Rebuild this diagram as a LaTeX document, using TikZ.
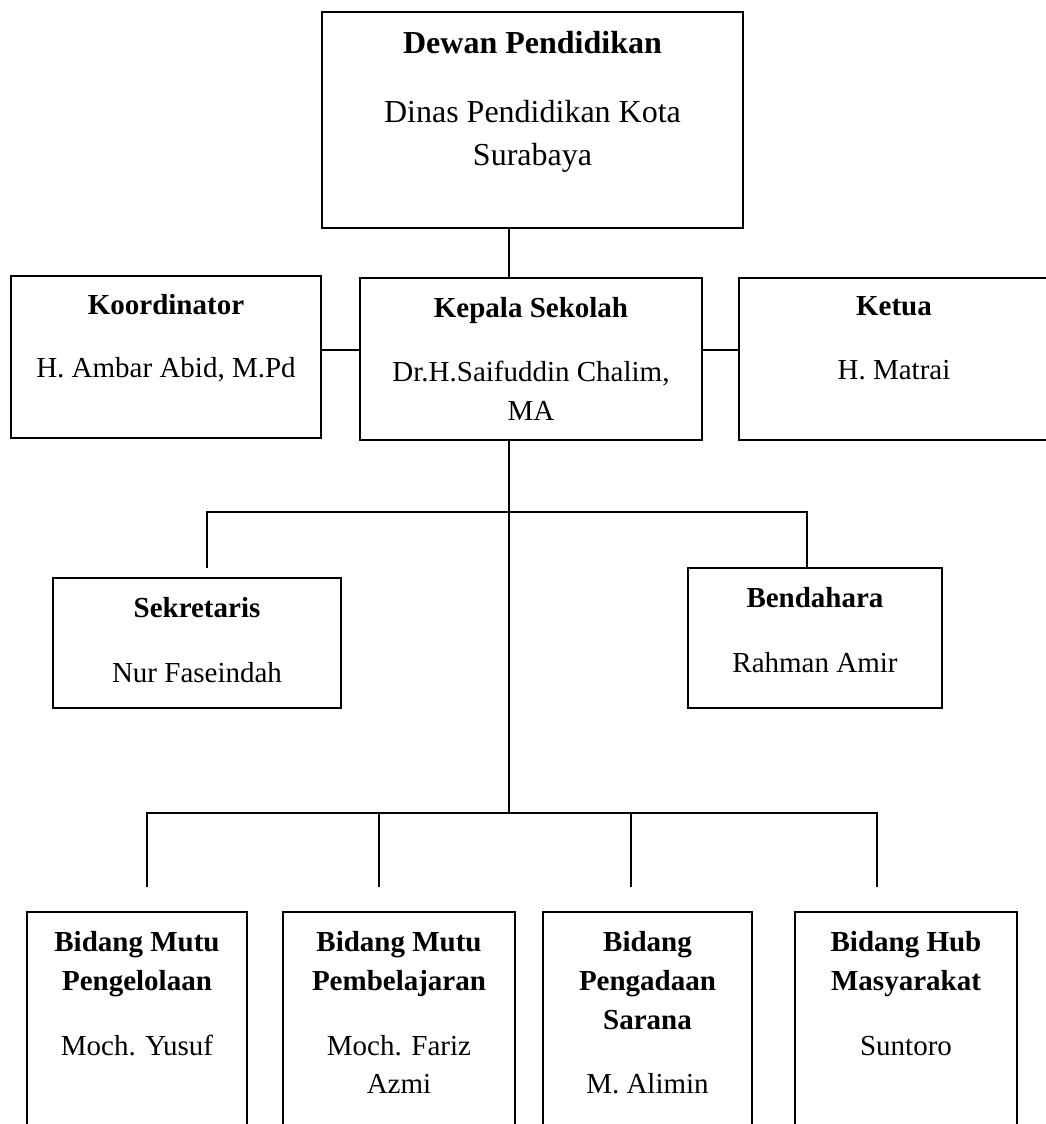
\documentclass[tikz,border=0pt]{standalone}
\usepackage{fontspec}
\setmainfont{Liberation Serif}
\begin{document}
\begin{tikzpicture}[x=1pt,y=-1pt]
\tikzset{
  box/.style={draw, line width=1.5pt, rectangle, inner sep=0pt},
  conn/.style={draw, line width=1.5pt},
  lbl/.style={anchor=base, inner sep=0pt, font=\fontsize{29}{39}\selectfont},
  ttl/.style={anchor=base, inner sep=0pt, font=\fontsize{29}{39}\selectfont\bfseries},
  biglbl/.style={anchor=base, inner sep=0pt, font=\fontsize{32}{40}\selectfont},
  bigttl/.style={anchor=base, inner sep=0pt, font=\fontsize{32}{40}\selectfont\bfseries}
}
\clip (0,0) rectangle (1046,1124);
\fill[white] (0,0) rectangle (1046,1124);

% boxes
\node[box, minimum width=421, minimum height=216] (dewan) at (532.5,120) {};
\node[box, minimum width=310, minimum height=162] (koord) at (166,357) {};
\node[box, minimum width=342, minimum height=162] (kepala) at (531,359) {};
\node[box, minimum width=310, minimum height=162] (ketua) at (894,359) {};
\node[box, minimum width=288, minimum height=130] (sekre) at (197,643) {};
\node[box, minimum width=254, minimum height=140] (bend) at (815,638) {};
\node[box, minimum width=220, minimum height=300] (b1) at (137,1062) {};
\node[box, minimum width=232, minimum height=300] (b2) at (399,1062) {};
\node[box, minimum width=209, minimum height=300] (b3) at (647.5,1062) {};
\node[box, minimum width=222, minimum height=300] (b4) at (906,1062) {};

% texts
\node[bigttl] (t1) at (532.5,53) {Dewan Pendidikan};
\node[biglbl] (t2) at (532.5,122) {Dinas Pendidikan Kota};
\node[biglbl] (t3) at (532.5,165) {Surabaya};

\node[ttl] (t4) at (166,314) {Koordinator};
\node[lbl] (t5) at (166,377) {H. Ambar Abid, M.Pd};

\node[ttl] (t6) at (531,317) {Kepala Sekolah};
\node[lbl] (t7) at (531,381) {Dr.H.Saifuddin Chalim,};
\node[lbl] (t8) at (531,420) {MA};

\node[ttl] (t9) at (894,315) {Ketua};
\node[lbl] (t10) at (894,379) {H. Matrai};

\node[ttl] (t11) at (197,617) {Sekretaris};
\node[lbl] (t12) at (197,682) {Nur Faseindah};

\node[ttl] (t13) at (815,607) {Bendahara};
\node[lbl] (t14) at (815,672) {Rahman Amir};

\node[ttl] (t15) at (137,951) {Bidang Mutu};
\node[ttl] (t16) at (137,990) {Pengelolaan};
\node[lbl] (t17) at (137,1055) {Moch. Yusuf};

\node[ttl] (t18) at (399,951) {Bidang Mutu};
\node[ttl] (t19) at (399,990) {Pembelajaran};
\node[lbl] (t20) at (399,1055) {Moch. Fariz};
\node[lbl] (t21) at (399,1093) {Azmi};

\node[ttl] (t22) at (647.5,951) {Bidang};
\node[ttl] (t23) at (647.5,990) {Pengadaan};
\node[ttl] (t24) at (647.5,1029) {Sarana};
\node[lbl] (t25) at (647.5,1093) {M. Alimin};

\node[ttl] (t26) at (906,951) {Bidang Hub};
\node[ttl] (t27) at (906,990) {Masyarakat};
\node[lbl] (t28) at (906,1055) {Suntoro};

% helper coordinates
\coordinate (cx) at (509,0);
\coordinate (hy) at (0,350);
\coordinate (busAL) at (207,512);
\coordinate (busAR) at (807,512);
\coordinate (dropS) at (207,568);
\coordinate (busB) at (509,813);
\coordinate (busBL) at (147,813);
\coordinate (busBR) at (877,813);
\coordinate (d1) at (147,887);
\coordinate (d2a) at (379,813);
\coordinate (d2) at (379,887);
\coordinate (d3a) at (631,813);
\coordinate (d3) at (631,887);
\coordinate (d4) at (877,887);

% connectors
\draw[conn] (dewan.south -| cx) -- (kepala.north -| cx);
\draw[conn] (koord.east |- hy) -- (kepala.west |- hy);
\draw[conn] (kepala.east |- hy) -- (ketua.west |- hy);
\draw[conn] (kepala.south -| cx) -- (busB);
\draw[conn] (dropS) -- (busAL) -- (busAR) -- (bend.north -| busAR);
\draw[conn] (d1) -- (busBL) -- (busBR) -- (d4);
\draw[conn] (d2a) -- (d2);
\draw[conn] (d3a) -- (d3);
\end{tikzpicture}
\end{document}
